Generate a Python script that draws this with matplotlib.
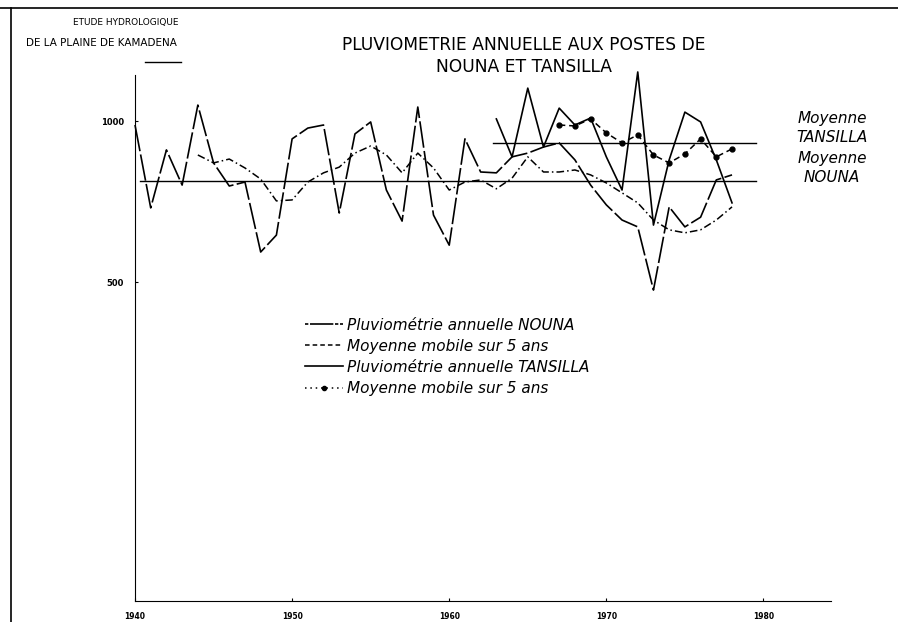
import numpy as np
import matplotlib.pyplot as plt
from matplotlib.lines import Line2D

# annual rainfall, mm
years_nouna = np.arange(1940, 1979)
rain_nouna = [983, 688, 883, 759, 1071, 835, 756, 769, 569, 612,
              926, 970, 983, 673, 946, 996, 743, 650, 1062, 667,
              586, 926, 803, 800, 857, 871, 894, 910, 846, 759,
              697, 653, 634, 483, 691, 634, 661, 776, 793]

years_tans = np.arange(1963, 1979)
rain_tans = [1009, 857, 1152, 894, 1057, 983, 1013, 857,
             743, 1235, 639, 846, 1039, 996, 846, 703]

# 5 year moving averages
years_ma_nouna = np.arange(1944, 1979)
ma_nouna = [864, 835, 849, 817, 779, 709, 712, 769, 800, 820,
            871, 898, 864, 800, 871, 817, 743, 769, 776, 747,
            782, 857, 803, 803, 810, 793, 766, 734, 703, 653,
            626, 618, 626, 653, 691]

years_ma_tans = np.arange(1967, 1979)
ma_tans = [983, 979, 1009, 950, 910, 942, 864, 835, 868, 926, 857, 887]

mean_nouna = 773
mean_tans = 910

fig = plt.figure(figsize=(8.98, 6.22), dpi=100)
ax = fig.add_axes([135/898, 1-601/622, 696/898, 526/622])

ax.plot(years_nouna, rain_nouna, color='black', lw=1.2, ls=(0, (16, 2)),
        clip_on=False)
ax.plot(years_ma_nouna, ma_nouna, color='black', lw=1.1,
        ls=(0, (5, 2, 1, 2)), clip_on=False)
ax.plot(years_tans, rain_tans, color='black', lw=1.2, ls='-', clip_on=False)
ax.plot(years_ma_tans, ma_tans, color='black', lw=1.1, ls=(0, (4, 2.5)),
        marker='o', ms=3.5, clip_on=False)

ax.plot([1940.3, 1979.5], [mean_nouna, mean_nouna], color='black', lw=1.0)
ax.plot([1962.8, 1979.5], [mean_tans, mean_tans], color='black', lw=1.0)

ax.set_yscale('log')
ax.set_ylim(126.7, 1219)
ax.set_xlim(1940, 1984.3)
ax.set_yticks([1000, 500])
ax.set_yticklabels(['1000', '500'], fontsize=6, fontweight='bold')
ax.yaxis.set_minor_locator(plt.NullLocator())
ax.set_xticks([1940, 1950, 1960, 1970, 1980])
ax.set_xticklabels(['1940', '1950', '1960', '1970', '1980'], fontsize=5.5,
                   fontweight='bold')
ax.tick_params(axis='both', length=2, direction='in', pad=8)
for s in ['top', 'right']:
    ax.spines[s].set_visible(False)
ax.patch.set_visible(False)

handles = [
    Line2D([], [], color='black', lw=1.2, ls=(0, (2, 1, 14, 1))),
    Line2D([], [], color='black', lw=1.1, ls=(0, (3, 2))),
    Line2D([], [], color='black', lw=1.2, ls='-'),
    Line2D([], [], color='black', lw=1.1, ls=(0, (1, 2.5)), marker='o',
           ms=3, markevery=[0, -1]),
]
labels = ['Pluviométrie annuelle NOUNA', 'Moyenne mobile sur 5 ans',
          'Pluviométrie annuelle TANSILLA', 'Moyenne mobile sur 5 ans']
ax.legend(handles, labels, loc='upper left', bbox_to_anchor=(0.224, 0.565),
          frameon=False, handlelength=2.5, handletextpad=0.3,
          labelspacing=0.4, prop={'style': 'italic', 'size': 11})

# right-hand notes
fig.text(832/898, 1-118/622, 'Moyenne', ha='center', va='center',
         style='italic', fontsize=11)
fig.text(832/898, 1-137/622, 'TANSILLA', ha='center', va='center',
         style='italic', fontsize=11)
fig.text(832/898, 1-158/622, 'Moyenne', ha='center', va='center',
         style='italic', fontsize=11)
fig.text(832/898, 1-178/622, 'NOUNA', ha='center', va='center',
         style='italic', fontsize=11)

# header lettering
fig.text(126/898, 1-22/622, 'ETUDE HYDROLOGIQUE', ha='center', va='center',
         fontsize=6.5)
fig.text(101/898, 1-43/622, 'DE LA PLAINE DE KAMADENA', ha='center',
         va='center', fontsize=7.5)
fig.text(524/898, 1-45/622, 'PLUVIOMETRIE ANNUELLE AUX POSTES DE',
         ha='center', va='center', fontsize=12.3)
fig.text(524/898, 1-67/622, 'NOUNA ET TANSILLA', ha='center', va='center',
         fontsize=12.3)
fig.add_artist(Line2D([145/898, 181/898], [1-62/622, 1-62/622],
                      color='black', lw=1.0))

# scan frame
fig.add_artist(Line2D([0, 1], [1-8/622, 1-8/622], color='black', lw=1.2))
fig.add_artist(Line2D([11/898, 11/898], [0, 1-8/622], color='black', lw=1.2))

fig.savefig('out.png', dpi=100)
